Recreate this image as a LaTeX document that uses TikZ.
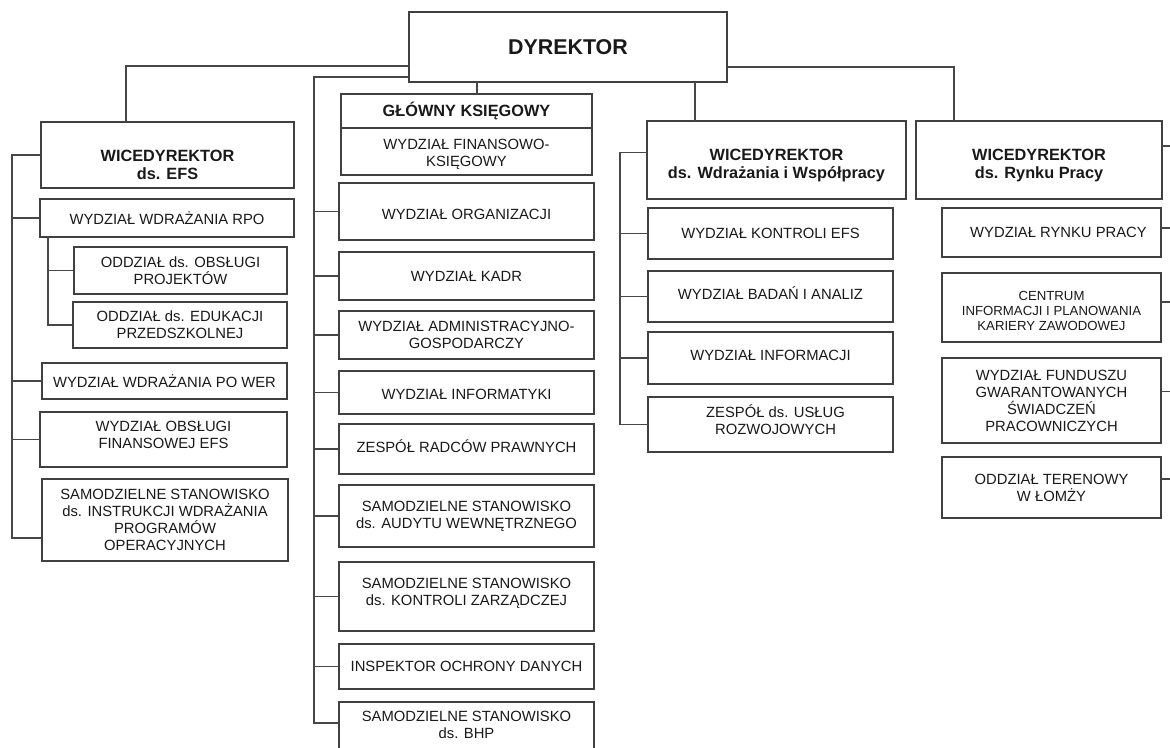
\documentclass[tikz,border=0pt]{standalone}
\usepackage{fontspec}
\setmainfont{Liberation Sans}
\usetikzlibrary{calc,positioning}

\newcommand{\tekst}{\fontsize{14.8}{17}\selectfont}
\newcommand{\maly}{\fontsize{13.2}{15}\selectfont}
\newcommand{\naglowek}{\fontsize{16.3}{18.5}\selectfont\bfseries}
% podniesienie / obnizenie tekstu w ramce
\newcommand{\nizej}[1]{\rule{0pt}{#1}}
\newcommand{\wyzej}[1]{\rule[-#1]{0pt}{#1}}

\begin{document}
\begin{tikzpicture}[x=1pt,y=-1pt,
    blok/.style={draw=black!75,line width=1.5pt,align=center,inner sep=0pt,outer sep=0pt,font=\tekst,text=black!90},
    srodek/.style={blok,minimum width=255pt},
    prawy/.style={blok,minimum width=245pt},
    rynek/.style={blok,minimum width=219pt},
    linia/.style={draw=black!72,line width=1.3pt}]
    \useasboundingbox (0,0) rectangle (1170,747);
    %
    \node[blok,minimum width=318pt,minimum height=70pt,font=\fontsize{21.4}{24}\selectfont\bfseries] (Dyrektor) at (568,47) {DYREKTOR};
    %
    \node[blok,font=\naglowek,minimum width=253pt,minimum height=66pt] (Wice_efs) at (167.5,155) {\nizej{31pt}WICEDYREKTOR\\ds. EFS};
    \node[blok,minimum width=254pt,minimum height=38pt] (Wydzial_rpo) at (167,218) {WYDZIAŁ WDRAŻANIA RPO};
    \node[blok,minimum width=213pt,minimum height=47pt] (Oddzial_projekty) at (180.5,270.5) {ODDZIAŁ ds. OBSŁUGI\\PROJEKTÓW};
    \node[blok,minimum width=214pt,minimum height=46pt] (Oddzial_edukacja) at (180,325) {ODDZIAŁ ds. EDUKACJI\\PRZEDSZKOLNEJ};
    \node[blok,minimum width=245pt,minimum height=36pt] (Wydzial_wer) at (164.5,381) {WYDZIAŁ WDRAŻANIA PO WER};
    \node[blok,minimum width=247pt,minimum height=55pt] (Wydzial_fin_efs) at (163.5,439.5) {WYDZIAŁ OBSŁUGI\\FINANSOWEJ EFS\wyzej{10pt}};
    \node[blok,minimum width=246pt,minimum height=82pt] (Stanowisko_instrukcji) at (165,520) {SAMODZIELNE STANOWISKO\\ds. INSTRUKCJI WDRAŻANIA\\PROGRAMÓW\\OPERACYJNYCH};
    %
    \node[blok,font=\naglowek,minimum width=251pt,minimum height=34pt] (Glowny_ksiegowy) at (466.5,111) {GŁÓWNY KSIĘGOWY};
    \node[blok,minimum width=251pt,minimum height=47pt,below=0pt of Glowny_ksiegowy] (Wydzial_fk) {\nizej{16pt}WYDZIAŁ FINANSOWO-\\KSIĘGOWY};
    \node[srodek,minimum height=57pt,below=8pt of Wydzial_fk] (Wydzial_org) {\nizej{16pt}WYDZIAŁ ORGANIZACJI};
    \node[srodek,minimum height=48pt,below=12pt of Wydzial_org] (Wydzial_kadr) {WYDZIAŁ KADR};
    \node[srodek,minimum height=48pt,below=11pt of Wydzial_kadr] (Wydzial_adm) {WYDZIAŁ ADMINISTRACYJNO-\\GOSPODARCZY};
    \node[srodek,minimum height=43pt,below=12pt of Wydzial_adm] (Wydzial_it) {\nizej{14pt}WYDZIAŁ INFORMATYKI};
    \node[srodek,minimum height=50pt,below=10pt of Wydzial_it] (Zespol_radcow) {ZESPÓŁ RADCÓW PRAWNYCH\wyzej{6pt}};
    \node[srodek,minimum height=62pt,below=11pt of Zespol_radcow] (Stanowisko_audytu) {SAMODZIELNE STANOWISKO\\ds. AUDYTU WEWNĘTRZNEGO};
    \node[srodek,minimum height=69pt,below=15pt of Stanowisko_audytu] (Stanowisko_kontroli) {SAMODZIELNE STANOWISKO\\ds. KONTROLI ZARZĄDCZEJ\wyzej{10pt}};
    \node[srodek,minimum height=45pt,below=13pt of Stanowisko_kontroli] (Inspektor) {INSPEKTOR OCHRONY DANYCH};
    \node[srodek,minimum height=60pt,below=13pt of Inspektor] (Stanowisko_bhp) {SAMODZIELNE STANOWISKO\\ds. BHP\wyzej{15pt}};
    %
    \node[blok,font=\naglowek,minimum width=259pt,minimum height=78pt] (Wice_wdr) at (776.5,160) {\nizej{22pt}WICEDYREKTOR\\ds. Wdrażania i Współpracy};
    \node[prawy,minimum height=51pt] (Wydzial_kontroli) at (770.5,233.5) {WYDZIAŁ KONTROLI EFS};
    \node[prawy,minimum height=51pt] (Wydzial_badan) at (770.5,296.5) {WYDZIAŁ BADAŃ I ANALIZ\wyzej{6pt}};
    \node[prawy,minimum height=52pt] (Wydzial_informacji) at (770.5,358) {WYDZIAŁ INFORMACJI\wyzej{6pt}};
    \node[prawy,minimum height=55pt] (Zespol_uslug) at (770.5,424.5) {\hspace*{10pt}ZESPÓŁ ds. USŁUG\\\hspace*{10pt}ROZWOJOWYCH\wyzej{10pt}};
    %
    \node[blok,font=\naglowek,minimum width=246pt,minimum height=78pt] (Wice_rynek) at (1039,160) {\nizej{22pt}WICEDYREKTOR\\ds. Rynku Pracy};
    \node[rynek,minimum height=49pt] (Wydzial_rynku) at (1051.5,232.5) {\hspace*{14pt}WYDZIAŁ RYNKU PRACY};
    \node[rynek,minimum height=69pt,font=\maly] (Centrum) at (1051.5,307.5) {\nizej{16pt}CENTRUM\\INFORMACJI I PLANOWANIA\\KARIERY ZAWODOWEJ};
    \node[rynek,minimum height=85pt] (Wydzial_funduszu) at (1051.5,400.5) {WYDZIAŁ FUNDUSZU\\GWARANTOWANYCH\\ŚWIADCZEŃ\\PRACOWNICZYCH};
    \node[rynek,minimum height=61pt] (Oddzial_lomza) at (1051.5,487.5) {ODDZIAŁ TERENOWY\\W ŁOMŻY};
    %
    \coordinate (Lewy_punkt) at (126,66);
    \coordinate (Srodek_punkt) at (314,77);
    \coordinate (Prawy_punkt) at (954,67);
    \coordinate (Gk_punkt) at ([xshift=-91pt]Dyrektor.south);
    \coordinate (Wdr_punkt) at ([xshift=127pt]Dyrektor.south);
    \draw[linia] (Lewy_punkt -| Dyrektor.west) -- (Lewy_punkt) -- (Lewy_punkt |- Wice_efs.north);
    \draw[linia] (Prawy_punkt -| Dyrektor.east) -- (Prawy_punkt) -- (Prawy_punkt |- Wice_rynek.north);
    \draw[linia] (Gk_punkt) -- (Gk_punkt |- Glowny_ksiegowy.north);
    \draw[linia] (Wdr_punkt) -- (Wdr_punkt |- Wice_wdr.north);
    %
    \coordinate (Bhp_wejscie) at ($(Stanowisko_bhp.north west)!0.35!(Stanowisko_bhp.south west)$);
    \draw[linia] (Srodek_punkt -| Dyrektor.west) -- (Srodek_punkt) |- (Bhp_wejscie);
    \foreach \n in {Wydzial_org,Wydzial_kadr,Wydzial_adm,Wydzial_it,Zespol_radcow,Stanowisko_audytu,Stanowisko_kontroli,Inspektor}
        \draw[linia] (Srodek_punkt |- \n.west) -- (\n.west);
    %
    \coordinate (Lewa_szyna) at (12,0);
    \coordinate (Instr_wejscie) at ($(Stanowisko_instrukcji.north west)!0.72!(Stanowisko_instrukcji.south west)$);
    \draw[linia] (Wice_efs.west) -- (Wice_efs.west -| Lewa_szyna) |- (Instr_wejscie);
    \foreach \n in {Wydzial_rpo,Wydzial_wer,Wydzial_fin_efs}
        \draw[linia] (Lewa_szyna |- \n.west) -- (\n.west);
    \coordinate (Wewn_szyna) at (48,0);
    \draw[linia] (Wydzial_rpo.south -| Wewn_szyna) |- (Oddzial_edukacja.west);
    \draw[linia] (Wewn_szyna |- Oddzial_projekty.west) -- (Oddzial_projekty.west);
    %
    \coordinate (Wdr_szyna) at (620,0);
    \coordinate (Wdr_wyjscie) at ($(Wice_wdr.north west)!0.4!(Wice_wdr.south west)$);
    \draw[linia] (Wdr_wyjscie) -- (Wdr_wyjscie -| Wdr_szyna) |- (Zespol_uslug.west);
    \foreach \n in {Wydzial_kontroli,Wydzial_badan,Wydzial_informacji}
        \draw[linia] (Wdr_szyna |- \n.west) -- (\n.west);
    %
    \coordinate (Krawedz) at (1170,0);
    \foreach \n/\f in {Wice_rynek/0.32,Wydzial_rynku/0.41,Centrum/0.42,Wydzial_funduszu/0.39,Oddzial_lomza/0.36}{
        \coordinate (Wyjscie) at ($(\n.north east)!\f!(\n.south east)$);
        \draw[linia] (Wyjscie) -- (Wyjscie -| Krawedz);
    }
\end{tikzpicture}
\end{document}
